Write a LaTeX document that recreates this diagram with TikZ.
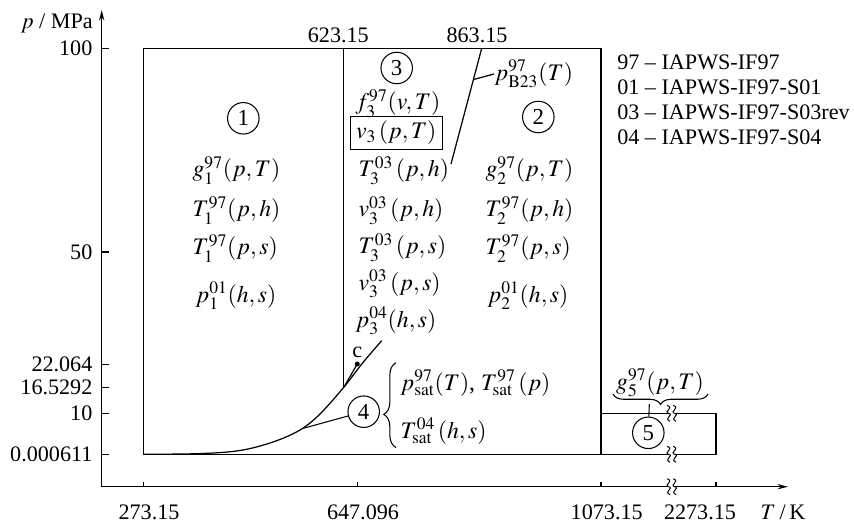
\documentclass[tikz,border=0pt]{standalone}
\usepackage{mathptmx}
\usepackage{fontspec}
\setmainfont{Liberation Serif}
\usetikzlibrary{arrows.meta,decorations.pathreplacing,calc}

\begin{document}
\begin{tikzpicture}[x=0.02cm, y=-0.02cm, line width=0.7pt, every node/.style={font=\fontsize{12.6}{14}\selectfont, inner sep=0pt}]
\tikzset{num/.style={circle, draw, line width=0.6pt, minimum size=0.63cm, font=\fontsize{13}{14}\selectfont},
  fn/.style={anchor=base west, font=\fontsize{13.5}{15}\selectfont},
  tick/.style={line width=0.6pt},
  axis/.style={line width=0.7pt, -{Stealth[length=6pt,width=3pt]}},
  brace4/.style={decorate, decoration={brace, amplitude=7pt, aspect=0.39}, line width=0.6pt},
  brace5/.style={decorate, decoration={brace, amplitude=6pt}, line width=0.6pt},
  brk/.pic={\fill[white] (-3,-6) rectangle (3,6);
    \foreach \d in {-3,3} \draw[line width=0.55pt] (\d-1.5,-8) .. controls (\d+6,-5) and (\d-6,-1.5) .. (\d,0) .. controls (\d+6,1.5) and (\d-6,5) .. (\d+1.5,8);}}
\useasboundingbox (0,0) rectangle (854,523);
% axes
\coordinate (O) at (101.7,486.7); \coordinate (ytop) at (101.7,10); \coordinate (xend) at (788,486.7);
\draw[axis] (O) -- (ytop); \draw[axis] (O) -- (xend);
\node[anchor=east] (ylab) at (93.3,23) {$p$ / MPa};
\node (xlab) at (783,512) {$T$\,/\,K};
\foreach \v/\y [count=\i] in {100/48.3, 50/252, 22.064/364.3, 16.5292/387.3, 10/413.3, 0.000611/454.3} {
  \draw[tick] (101.7,\y) -- (109,\y); \node[anchor=east] (yl\i) at (93,\y) {\v};}
\foreach \x in {143.3, 357.3, 601, 716} \draw[tick] (\x,486.7) -- (\x,481.5);
\foreach \v/\x [count=\i] in {273.15/149, 647.096/363, 1073.15/606.7, 2273.15/700} \node (xl\i) at (\x,512) {\v};
% regions
\draw (143.3,48.3) rectangle (601,454.3);
\draw (601,413.3) rectangle (716,454.3);
\draw (343.3,48.3) -- (343.3,387);
\node (t623) at (338.3,35) {623.15}; \node (t863) at (477,35) {863.15};
\foreach \y in {413.3, 454.3, 486.7} \pic at (671.7,\y) {brk};
% saturation line
\draw plot[smooth, tension=0.55] coordinates {(143.3,454.3) (200,453.6) (240,450.5) (273,442) (300,430) (320,414) (344,387) (363,362.5) (381.7,340.7)};
\node[circle, fill, minimum size=0.1cm, label={[label distance=1.5pt]above:c}] (cpt) at (357.3,364) {};
\draw (344,387) .. controls (351,376) .. (cpt.center);
% B23
\coordinate (b23top) at (481.7,48.3); \coordinate (b23bot) at (451,164);
\draw (b23top) -- (b23bot);
\node[anchor=west, font=\fontsize{13.5}{15}\selectfont] (pB23) at (494,74) {$p^{97}_{\mathrm{B23}}(T)$};
\draw ($(b23top)!0.27!(b23bot)$) -- (pB23.west);
% region 1
\node[num] (r1) at (243.3,118.3) {1};
\node[fn] (g1) at (192,177) {$g_1^{97}(p,T)$};
\node[fn] (T1ph) at (192,217) {$T_1^{97}(p,h)$};
\node[fn] (T1ps) at (192,255) {$T_1^{97}(p,s)$};
\node[fn] (p1hs) at (195,302) {$p_1^{01}(h,s)$};
% region 3
\node[num] (r3) at (396.7,68) {3};
\node[fn] (f3) at (355,110) {$f_3^{97}(v,T)$};
\node[draw, line width=0.5pt, minimum width=1.85cm, minimum height=0.66cm, font=\fontsize{13.5}{15}\selectfont] (v3) at (396.3,132.5) {$v_3\,(p,T)$};
\node[fn] (T3ph) at (358,177) {$T_3^{03}\,(p,h)$};
\node[fn] (v3ph) at (358,217) {$v_3^{03}\,(p,h)$};
\node[fn] (T3ps) at (358,254) {$T_3^{03}\,(p,s)$};
\node[fn] (v3ps) at (358,290) {$v_3^{03}\,(p,s)$};
\node[fn] (p3hs) at (355,327) {$p_3^{04}(h,s)$};
% region 2
\node[num] (r2) at (538.3,117) {2};
\node[fn] (g2) at (485,177) {$g_2^{97}(p,T)$};
\node[fn] (T2ph) at (485,217) {$T_2^{97}(p,h)$};
\node[fn] (T2ps) at (485,255) {$T_2^{97}(p,s)$};
\node[fn] (p2hs) at (487,302) {$p_2^{01}(h,s)$};
% region 4
\node[num] (r4) at (363.7,411.7) {4};
\coordinate (s4) at (303.3,428.3);
\draw[line width=0.6pt] (r4) -- (s4);
\coordinate (b4a) at (396,447.5); \coordinate (b4b) at (396,362.7);
\draw[brace4] (b4a) -- (b4b);
\node[fn] (psat) at (400,390) {$p^{97}_{\mathrm{sat}}(T)$, $T^{97}_{\mathrm{sat}}\,(p)$};
\node[fn] (Tsat) at (400,438) {$T^{04}_{\mathrm{sat}}\,(h,s)$};
% region 5
\node[num] (r5) at (648.3,432.8) {5};
\node[font=\fontsize{13.5}{15}\selectfont] (g5) at (660,383) {$g_5^{97}(p,T)$};
\coordinate (b5a) at (708,394); \coordinate (b5b) at (613,394); \coordinate (b5tip) at (649.3,404);
\draw[brace5] (b5a) -- (b5b);
\draw[line width=0.6pt] (b5tip) -- (r5);
% legend
\foreach \k/\s [count=\i] in {97/IAPWS-IF97, 01/IAPWS-IF97-S01, 03/IAPWS-IF97-S03rev, 04/IAPWS-IF97-S04}
  \node[anchor=base west] (leg\i) at (616.7,45+25*\i) {\k\ -- \s};
\end{tikzpicture}
\end{document}
